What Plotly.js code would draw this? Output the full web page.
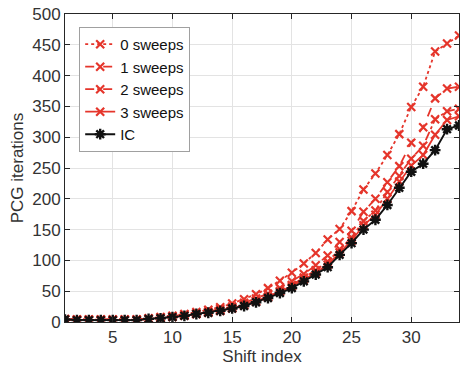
<!DOCTYPE html>
<html>
<head>
<meta charset="utf-8">
<script src="https://cdn.plot.ly/plotly-3.0.1.min.js"></script>
<style>html,body{margin:0;padding:0;background:#fff;}#chart{width:461px;height:366px;}</style>
</head>
<body>
<div id="chart"></div>
<script>
const shiftIndex = [1,2,3,4,5,6,7,8,9,10,11,12,13,14,15,16,17,18,19,20,21,22,23,24,25,26,27,28,29,30,31,32,33,34];
const sweeps0 = [5,4,4,4,4,4,4,6,8,10,13,16,20,24,30,37,45,55,67,80,95,112,134,151,180,215,241,271,305,349,382,439,452,465];
const sweeps1 = [4,4,4,4,4,4,4,5,7,9,11,14,17,21,25,31,38,46,55,66,78,92,108,130,148,179,200,227,253,291,316,363,379,382];
const sweeps2 = [4,3,3,3,3,3,3,5,7,9,11,13,16,19,23,28,34,41,50,60,72,84,98,118,137,164,181,211,237,265,286,329,342,346];
const sweeps3 = [4,3,3,3,3,3,3,5,6,8,10,13,15,18,22,27,33,40,49,58,69,80,93,113,132,157,174,200,228,254,271,304,328,334];
const icIters = [4,3,3,3,3,3,3,5,6,8,10,13,15,18,22,26,32,39,47,55,66,77,89,109,128,150,166,190,218,244,257,279,313,319];
const seriesNames = ['0 sweeps','1 sweeps','2 sweeps','3 sweeps','IC'];
const xTicks = [5,10,15,20,25,30];
const yTicks = [0,50,100,150,200,250,300,350,400,450,500];

const red = '#e5352b';
const dashes = ['dot','dash','dashdot','solid'];
const reds = [sweeps0, sweeps1, sweeps2, sweeps3];
const traces = reds.map((ys, k) => ({
  x: shiftIndex, y: ys, name: seriesNames[k], type: 'scatter', mode: 'lines+markers',
  line: {color: red, width: 1.8, dash: dashes[k]},
  marker: {symbol: 'x-thin-open', size: 8, color: red, line: {color: red, width: 2.2}}
}));
traces.push({
  x: shiftIndex, y: icIters, name: seriesNames[4], type: 'scatter', mode: 'lines+markers',
  line: {color: '#111', width: 1.9},
  marker: {symbol: 'asterisk-open', size: 9, color: '#111', line: {color: '#111', width: 2.4}}
});

const axisCommon = {
  showline: true, linecolor: '#262626', linewidth: 1, mirror: 'ticks',
  ticks: 'inside', ticklen: 5, tickcolor: '#262626',
  showgrid: true, gridcolor: '#e3e3e3', gridwidth: 1, zeroline: false,
  tickfont: {family: 'Liberation Sans, Arial, sans-serif', size: 17, color: '#333'}
};
const layout = {
  width: 461, height: 366,
  margin: {l: 65, r: 2, t: 14, b: 44},
  paper_bgcolor: '#fff', plot_bgcolor: '#fff',
  font: {family: 'Liberation Sans, Arial, sans-serif', size: 17, color: '#333'},
  xaxis: Object.assign({}, axisCommon, {
    range: [1, 34], tickvals: xTicks, ticktext: xTicks.map(String),
    title: {text: 'Shift index', standoff: 2, font: {size: 17, color: '#333'}}
  }),
  yaxis: Object.assign({}, axisCommon, {
    range: [0, 500], tickvals: yTicks, ticktext: yTicks.map(String),
    title: {text: 'PCG iterations', standoff: 4, font: {size: 17, color: '#333'}}
  }),
  showlegend: true,
  legend: {
    x: 0.036, y: 0.958, xanchor: 'left', yanchor: 'top',
    bgcolor: '#fff', bordercolor: '#a0a0a0', borderwidth: 1,
    font: {family: 'Liberation Sans, Arial, sans-serif', size: 15, color: '#111'},
    tracegroupgap: 0, itemwidth: 30
  }
};
Plotly.newPlot('chart', traces, layout, {displayModeBar: false, staticPlot: true});
</script>
</body>
</html>
